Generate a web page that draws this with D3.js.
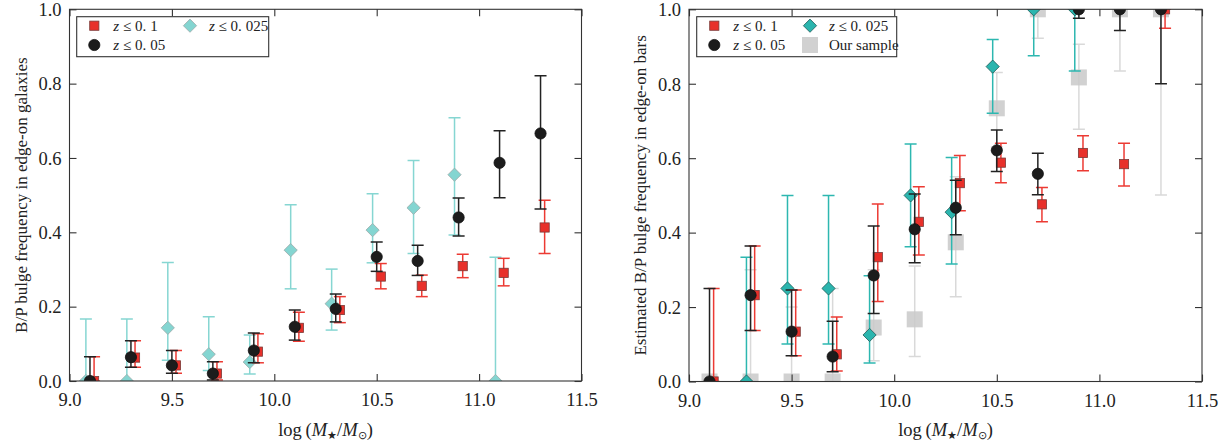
<!DOCTYPE html>
<html>
<head>
<meta charset="utf-8">
<script src="https://cdn.jsdelivr.net/npm/d3@7"></script>
<style>
  html, body { margin: 0; padding: 0; background: #fff; }
  svg { display: block; }
  text { font-family: "Liberation Serif", "Times New Roman", serif; fill: #222; }
</style>
</head>
<body>
<svg id="chart" width="1219" height="446"></svg>
<script>
// ---------- data ----------
const bins = [9.1, 9.3, 9.5, 9.7, 9.9, 10.1, 10.3, 10.5, 10.7, 10.9, 11.1, 11.3];
const xTicks = [9.0, 9.5, 10.0, 10.5, 11.0, 11.5];
const yTicks = [0.0, 0.2, 0.4, 0.6, 0.8, 1.0];

// Left panel: B/P bulge frequency in edge-on galaxies
const leftRedVal  = [0, 0.063, 0.042, 0.020, 0.079, 0.143, 0.191, 0.281, 0.256, 0.309, 0.291, 0.413];
const leftRedLo   = [0, 0.037, 0.021, 0.003, 0.049, 0.107, 0.157, 0.248, 0.227, 0.278, 0.256, 0.343];
const leftRedHi   = [0.065, 0.108, 0.082, 0.052, 0.127, 0.185, 0.227, 0.316, 0.285, 0.341, 0.330, 0.486];
const leftBlackVal = [0, 0.064, 0.042, 0.020, 0.082, 0.146, 0.194, 0.334, 0.323, 0.440, 0.587, 0.666];
const leftBlackLo  = [0, 0.037, 0.021, 0.003, 0.049, 0.110, 0.159, 0.295, 0.284, 0.390, 0.493, 0.463];
const leftBlackHi  = [0.065, 0.108, 0.082, 0.052, 0.129, 0.191, 0.234, 0.374, 0.365, 0.492, 0.673, 0.821];
const leftCyanVal = [0, 0, 0.143, 0.072, 0.051, 0.352, 0.208, 0.406, 0.466, 0.555, 0, null];
const leftCyanLo  = [0, 0, 0.056, 0.028, 0.019, 0.248, 0.137, 0.318, 0.343, 0.393, 0, null];
const leftCyanHi  = [0.167, 0.167, 0.319, 0.173, 0.124, 0.474, 0.301, 0.504, 0.593, 0.708, 0.333, null];

// Right panel: estimated B/P bulge frequency in edge-on bars
const rightRedVal = [0, 0.232, 0.134, 0.073, 0.334, 0.429, 0.533, 0.588, 0.476, 0.614, 0.584, 1.0];
const rightRedLo  = [0, 0.137, 0.069, 0.028, 0.215, 0.340, 0.459, 0.534, 0.429, 0.566, 0.525, 0.949];
const rightRedHi  = [0.250, 0.364, 0.246, 0.173, 0.477, 0.523, 0.607, 0.640, 0.521, 0.660, 0.640, 1.0];
const rightBlackVal = [0, 0.232, 0.134, 0.067, 0.285, 0.409, 0.467, 0.621, 0.558, 1.0, 1.0, 1.0];
const rightBlackLo  = [0, 0.137, 0.069, 0.026, 0.183, 0.319, 0.394, 0.564, 0.502, 0.976, 0.943, 0.800];
const rightBlackHi  = [0.250, 0.364, 0.246, 0.162, 0.418, 0.504, 0.541, 0.676, 0.613, 1.0, 1.0, 1.0];
const rightCyanVal = [null, 0, 0.250, 0.250, 0.125, 0.500, 0.455, 0.846, 1.0, 1.0, null, null];
const rightCyanLo  = [null, 0, 0.101, 0.101, 0.050, 0.362, 0.316, 0.721, 0.875, 0.834, null, null];
const rightCyanHi  = [null, 0.334, 0.500, 0.500, 0.284, 0.638, 0.602, 0.919, 1.0, 1.0, null, null];
const rightGreyVal = [0, 0, 0, 0, 0.145, 0.167, 0.374, 0.734, 1.0, 0.817, 1.0, 1.0];
const rightGreyLo  = [0, 0, 0, 0, 0.056, 0.067, 0.228, 0.630, 0.922, 0.678, 0.834, 0.501];
const rightGreyHi  = [0, 0.30, 0.20, 0.25, 0.30, 0.31, 0.550, 0.830, 1.0, 0.906, 1.0, 1.0];

const legendLabels = { red: "0.1", black: "0.05", cyan: "0.025", grey: "Our sample" };

// ---------- drawing ----------
const svg = d3.select("#chart");
const AX = "#333";
const FONT = '"Liberation Serif", "Times New Roman", serif';

const styles = {
  grey:  { fill: "#c9c9c9", fillOp: 0.85, stroke: "none", err: "#d9d9d9", shape: "bigsquare", dx: 0 },
  cyanL: { fill: "#84d5d1", fillOp: 1, stroke: "#9aa9a8", err: "#86d6d2", shape: "diamond", dx: -0.02 },
  cyanR: { fill: "#2bb5ae", fillOp: 1, stroke: "#1d5a57", err: "#2db7b0", shape: "diamond", dx: -0.02 },
  red:   { fill: "#e8302a", fillOp: 1, stroke: "#7a3a38", err: "#ec3a33", shape: "square", dx: 0.02 },
  black: { fill: "#1c1c1c", fillOp: 1, stroke: "#111", err: "#222", shape: "circle", dx: 0 }
};

function marker(g, shape, cx, cy, st) {
  let m;
  if (shape === "square") {
    m = g.append("rect").attr("x", cx - 4.6).attr("y", cy - 4.6).attr("width", 9.2).attr("height", 9.2);
  } else if (shape === "bigsquare") {
    m = g.append("rect").attr("x", cx - 8).attr("y", cy - 8).attr("width", 16).attr("height", 16);
  } else if (shape === "circle") {
    m = g.append("circle").attr("cx", cx).attr("cy", cy).attr("r", 5.6);
  } else {
    const r = 6.6;
    m = g.append("path").attr("d", `M${cx},${cy - r}L${cx + r},${cy}L${cx},${cy + r}L${cx - r},${cy}Z`);
  }
  m.attr("fill", st.fill).attr("fill-opacity", st.fillOp)
   .attr("stroke", st.stroke).attr("stroke-width", st.stroke === "none" ? 0 : 0.8);
  return m;
}

function drawSeries(g, x, y, vals, lo, hi, st) {
  const cap = 6;
  vals.forEach((v, i) => {
    if (v === null) return;
    const cx = x(bins[i] + st.dx);
    const y1 = y(lo[i]), y2 = y(hi[i]);
    if (hi[i] - lo[i] > 0) {
      g.append("line").attr("x1", cx).attr("x2", cx).attr("y1", y1).attr("y2", y2)
        .attr("stroke", st.err).attr("stroke-width", 1.5);
      [y1, y2].forEach(yy => g.append("line").attr("x1", cx - cap).attr("x2", cx + cap)
        .attr("y1", yy).attr("y2", yy).attr("stroke", st.err).attr("stroke-width", 1.5));
    }
  });
  vals.forEach((v, i) => {
    if (v === null) return;
    marker(g, st.shape, x(bins[i] + st.dx), y(v), st);
  });
}

function zText(g, x, y, val) {
  const t = g.append("text").attr("x", x).attr("y", y).style("font-size", "15px");
  t.append("tspan").attr("font-style", "italic").text("z");
  t.append("tspan").text(" \u2264 ");
  const parts = val.split(".");
  t.append("tspan").text(parts[0] + ".");
  t.append("tspan").attr("dx", 4).text(parts[1]);
}

function panel(id, left, right, top, bottom, series, legend, ylabel, ylabelX) {
  const x = d3.scaleLinear().domain([9, 11.5]).range([left, right]);
  const y = d3.scaleLinear().domain([0, 1]).range([bottom, top]);
  const g = svg.append("g");

  svg.append("clipPath").attr("id", "clip" + id)
    .append("rect").attr("x", left).attr("y", top).attr("width", right - left).attr("height", bottom - top);

  const data = g.append("g").attr("clip-path", `url(#clip${id})`);
  series.forEach(s => drawSeries(data, x, y, s.vals, s.lo, s.hi, s.st));

  // frame
  g.append("rect").attr("x", left).attr("y", top).attr("width", right - left).attr("height", bottom - top)
    .attr("fill", "none").attr("stroke", AX).attr("stroke-width", 1.1);

  // axes (ticks inward)
  const tl = 7;
  const xb = g.append("g").attr("transform", `translate(0,${bottom})`)
    .call(d3.axisBottom(x).tickValues(xTicks).tickSize(-tl).tickPadding(12).tickFormat(d3.format(".1f")));
  const xt = g.append("g").attr("transform", `translate(0,${top})`)
    .call(d3.axisTop(x).tickValues(xTicks).tickSize(-tl).tickFormat(""));
  const yl = g.append("g").attr("transform", `translate(${left},0)`)
    .call(d3.axisLeft(y).tickValues(yTicks).tickSize(-tl).tickPadding(8).tickFormat(d3.format(".1f")));
  const yr = g.append("g").attr("transform", `translate(${right},0)`)
    .call(d3.axisRight(y).tickValues(yTicks).tickSize(-tl).tickFormat(""));
  [xb, xt, yl, yr].forEach(a => {
    a.attr("font-family", FONT).attr("font-size", 18);
    a.select(".domain").remove();
    a.selectAll("line").attr("stroke", AX).attr("stroke-width", 1.1);
    a.selectAll("text").style("font-family", FONT).style("font-size", "18.5px").attr("fill", "#222");
  });
  yl.selectAll("text").attr("dy", "0.34em");

  // x label
  const cxl = (left + right) / 2;
  const xl = g.append("text").attr("x", cxl).attr("y", 436).attr("text-anchor", "middle").style("font-size", "18.5px");
  xl.append("tspan").text("log\u2009(");
  xl.append("tspan").attr("font-style", "italic").text("M");
  xl.append("tspan").style("font-size", "11px").attr("dy", 3).text("\u2605");
  xl.append("tspan").attr("dy", -3).text("/");
  xl.append("tspan").attr("font-style", "italic").text("M");
  xl.append("tspan").style("font-size", "11px").attr("dy", 3).text("\u2299");
  xl.append("tspan").attr("dy", -3).text(")");

  // y label
  g.append("text").attr("transform", `translate(${ylabelX},${(top + bottom) / 2}) rotate(-90)`)
    .attr("text-anchor", "middle").style("font-size", "17px").text(ylabel);

  // legend
  const lg = g.append("g");
  lg.append("rect").attr("x", legend.x).attr("y", legend.y).attr("width", legend.w).attr("height", 40)
    .attr("fill", "#fff").attr("stroke", AX).attr("stroke-width", 1.1);
  legend.items.forEach(it => {
    const st = styles[it.key];
    marker(lg, st.shape, it.mx, it.my, st);
    if (it.key === "grey") {
      lg.append("text").attr("x", it.mx + 19).attr("y", it.my + 5).style("font-size", "15px").text(legendLabels.grey);
    } else {
      zText(lg, it.mx + 19, it.my + 5, legendLabels[it.key === "cyanL" || it.key === "cyanR" ? "cyan" : it.key]);
    }
  });
}

panel("L", 69.5, 581.5, 9.3, 381, [
  { vals: leftCyanVal, lo: leftCyanLo, hi: leftCyanHi, st: styles.cyanL },
  { vals: leftRedVal, lo: leftRedLo, hi: leftRedHi, st: styles.red },
  { vals: leftBlackVal, lo: leftBlackLo, hi: leftBlackHi, st: styles.black }
], { x: 76.7, y: 16.7, w: 192, items: [
  { key: "red", mx: 94.3, my: 25.7 },
  { key: "cyanL", mx: 190, my: 25.7 },
  { key: "black", mx: 94.3, my: 45 }
]}, "B/P bulge frequency in edge-on galaxies", 27);

panel("R", 689, 1202, 9.3, 381.5, [
  { vals: rightGreyVal, lo: rightGreyLo, hi: rightGreyHi, st: styles.grey },
  { vals: rightCyanVal, lo: rightCyanLo, hi: rightCyanHi, st: styles.cyanR },
  { vals: rightRedVal, lo: rightRedLo, hi: rightRedHi, st: styles.red },
  { vals: rightBlackVal, lo: rightBlackLo, hi: rightBlackHi, st: styles.black }
], { x: 696.7, y: 16.7, w: 200, items: [
  { key: "red", mx: 714.3, my: 25.7 },
  { key: "cyanR", mx: 810, my: 25.7 },
  { key: "black", mx: 714.3, my: 45 },
  { key: "grey", mx: 810, my: 45 }
]}, "Estimated B/P bulge frequency in edge-on bars", 646);
</script>
</body>
</html>
